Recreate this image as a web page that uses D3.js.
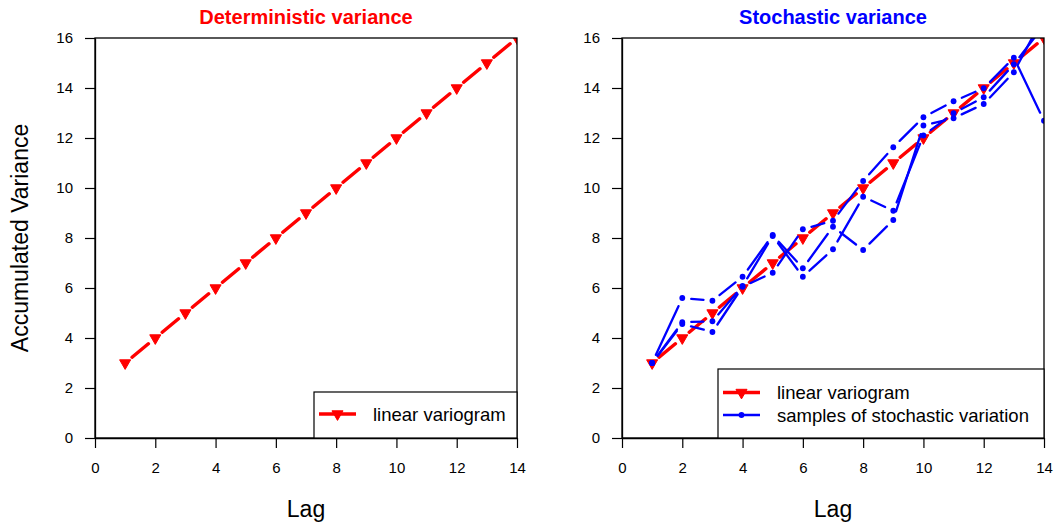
<!DOCTYPE html>
<html>
<head>
<meta charset="utf-8">
<script src="https://cdn.jsdelivr.net/npm/d3@7"></script>
<style>
  html, body { margin: 0; padding: 0; background: #fff; }
  svg { display: block; font-family: "Liberation Sans", Arial, sans-serif; }
</style>
</head>
<body>
<svg id="chart" width="1056" height="522"></svg>
<script>
// ---- data ----
const lags = [1, 2, 3, 4, 5, 6, 7, 8, 9, 10, 11, 12, 13, 14];
const linearVariogram = [3, 4, 5, 6, 7, 8, 9, 10, 11, 12, 13, 14, 15, 16];
const sample1 = [3, 5.6, 5.49, 6.45, 8.12, 6.79, 8.45, 7.52, 8.72, 12.5, 12.79, 13.36, 14.63, 16.9];
const sample2 = [3, 4.63, 4.67, 6.08, 8.08, 6.45, 7.55, 9.65, 9.09, 12.1, 12.99, 13.63, 14.95, 16.5];
const sample3 = [3, 4.56, 4.24, 6.05, 6.61, 8.35, 8.69, 10.28, 11.63, 12.83, 13.47, 13.99, 15.21, 12.69];
const samples = [sample1, sample2, sample3];
const xTicks = [0, 2, 4, 6, 8, 10, 12, 14];
const yTicks = [0, 2, 4, 6, 8, 10, 12, 14, 16];
const titles = ["Deterministic variance", "Stochastic variance"];
const titleColors = ["#ff0000", "#0000ff"];
const xLabel = "Lag";
const yLabel = "Accumulated Variance";
const legendLinear = "linear variogram";
const legendSamples = "samples of stochastic variation";

// ---- layout ----
const svg = d3.select("#chart");
const RED = "#ff0000", BLUE = "#0000ff";
const plotTop = 38, plotBottom = 438;
const panels = [{ x0: 95, x1: 517 }, { x0: 622, x1: 1044 }];
const GAP = 9;

function gappedPath(xs, ys, xs_, ys_) {
  let d = "";
  for (let i = 0; i < xs.length - 1; i++) {
    const ax = xs_(xs[i]), ay = ys_(ys[i]), bx = xs_(xs[i + 1]), by = ys_(ys[i + 1]);
    const dx = bx - ax, dy = by - ay, L = Math.hypot(dx, dy);
    if (L > 2 * GAP) {
      const ux = dx / L, uy = dy / L;
      d += `M${ax + ux * GAP},${ay + uy * GAP}L${bx - ux * GAP},${by - uy * GAP}`;
    }
  }
  return d;
}

function triPath(cx, cy) {
  const r = 6.4;
  const h = r * Math.sqrt(3) / 2;
  return `M${cx - h},${cy - r / 2}L${cx + h},${cy - r / 2}L${cx},${cy + r}Z`;
}

panels.forEach((p, pi) => {
  const x = d3.scaleLinear().domain([0, 14]).range([p.x0, p.x1]);
  const y = d3.scaleLinear().domain([0, 16]).range([plotBottom, plotTop]);
  const g = svg.append("g");

  const clipId = "clip" + pi;
  svg.append("clipPath").attr("id", clipId)
    .append("rect").attr("x", p.x0).attr("y", plotTop)
    .attr("width", p.x1 - p.x0).attr("height", plotBottom - plotTop);

  const plot = g.append("g").attr("clip-path", `url(#${clipId})`);

  // red linear variogram
  plot.append("path")
    .attr("d", gappedPath(lags, linearVariogram, x, y))
    .attr("fill", "none").attr("stroke", RED).attr("stroke-width", 3.5)
    .attr("stroke-linecap", "round");
  plot.selectAll(".tri").data(lags).enter().append("path")
    .attr("d", (d, i) => triPath(x(d), y(linearVariogram[i])))
    .attr("fill", RED).attr("stroke", RED).attr("stroke-width", 1);

  if (pi === 1) {
    samples.forEach(s => {
      plot.append("path")
        .attr("d", gappedPath(lags, s, x, y))
        .attr("fill", "none").attr("stroke", BLUE).attr("stroke-width", 2.3)
        .attr("stroke-linecap", "round");
      plot.selectAll(null).data(lags).enter().append("circle")
        .attr("cx", d => x(d)).attr("cy", (d, i) => y(s[i]))
        .attr("r", 2.9).attr("fill", BLUE);
    });
  }

  // box
  g.append("rect").attr("x", p.x0).attr("y", plotTop)
    .attr("width", p.x1 - p.x0).attr("height", plotBottom - plotTop)
    .attr("fill", "none").attr("stroke", "#000").attr("stroke-width", 1.3);

  // axes
  const xAxis = d3.axisBottom(x).tickValues(xTicks).tickSize(10).tickSizeOuter(0).tickPadding(14);
  const gx = g.append("g").attr("transform", `translate(0,${plotBottom})`).call(xAxis);
  gx.select(".domain").attr("stroke", "#000").attr("stroke-width", 1.3);
  gx.selectAll(".tick line").attr("stroke", "#000").attr("stroke-width", 1.2);
  gx.selectAll(".tick text").attr("font-size", 15).attr("fill", "#000")
    .attr("font-family", "Liberation Sans, Arial, sans-serif");

  const yAxis = d3.axisLeft(y).tickValues(yTicks).tickSize(10).tickSizeOuter(0).tickPadding(12);
  const gy = g.append("g").attr("transform", `translate(${p.x0},0)`).call(yAxis);
  gy.select(".domain").attr("stroke", "#000").attr("stroke-width", 1.3);
  gy.selectAll(".tick line").attr("stroke", "#000").attr("stroke-width", 1.2);
  gy.selectAll(".tick text").attr("font-size", 15).attr("fill", "#000")
    .attr("font-family", "Liberation Sans, Arial, sans-serif");

  // titles
  const cx = (p.x0 + p.x1) / 2;
  g.append("text").attr("x", cx).attr("y", 24).attr("text-anchor", "middle")
    .attr("font-size", 20).attr("font-weight", "bold").attr("fill", titleColors[pi])
    .text(titles[pi]);
  g.append("text").attr("x", cx).attr("y", 517).attr("text-anchor", "middle")
    .attr("font-size", 23).attr("fill", "#000").text(xLabel);
  if (pi === 0) {
    g.append("text").attr("transform", `translate(28,${(plotTop + plotBottom) / 2}) rotate(-90)`)
      .attr("text-anchor", "middle").attr("font-size", 23).attr("fill", "#000").text(yLabel);
  }

  // legend
  const items = pi === 0
    ? [{ label: legendLinear, color: RED, w: 3.5, sym: "tri" }]
    : [{ label: legendLinear, color: RED, w: 3.5, sym: "tri" },
       { label: legendSamples, color: BLUE, w: 2.3, sym: "dot" }];
  const lx0 = pi === 0 ? 314 : 718;
  const ly0 = pi === 0 ? 392 : 369;
  const lg = g.append("g");
  lg.append("rect").attr("x", lx0).attr("y", ly0)
    .attr("width", p.x1 - lx0).attr("height", plotBottom - ly0)
    .attr("fill", "#fff").attr("stroke", "#000").attr("stroke-width", 1.2);
  items.forEach((it, i) => {
    const cy = pi === 0 ? 414 : 392.5 + i * 22.5;
    const sx0 = lx0 + 5, sx1 = lx0 + 42, sxm = (sx0 + sx1) / 2;
    lg.append("line").attr("x1", sx0).attr("x2", sx1).attr("y1", cy).attr("y2", cy)
      .attr("stroke", it.color).attr("stroke-width", it.w);
    if (it.sym === "tri") {
      lg.append("path").attr("d", triPath(sxm, cy)).attr("fill", it.color).attr("stroke", it.color);
    } else {
      lg.append("circle").attr("cx", sxm).attr("cy", cy).attr("r", 2.9).attr("fill", it.color);
    }
    lg.append("text").attr("x", lx0 + 59).attr("y", cy + 6.5)
      .attr("font-size", 18.5).attr("fill", "#000").text(it.label);
  });
});
</script>
</body>
</html>
